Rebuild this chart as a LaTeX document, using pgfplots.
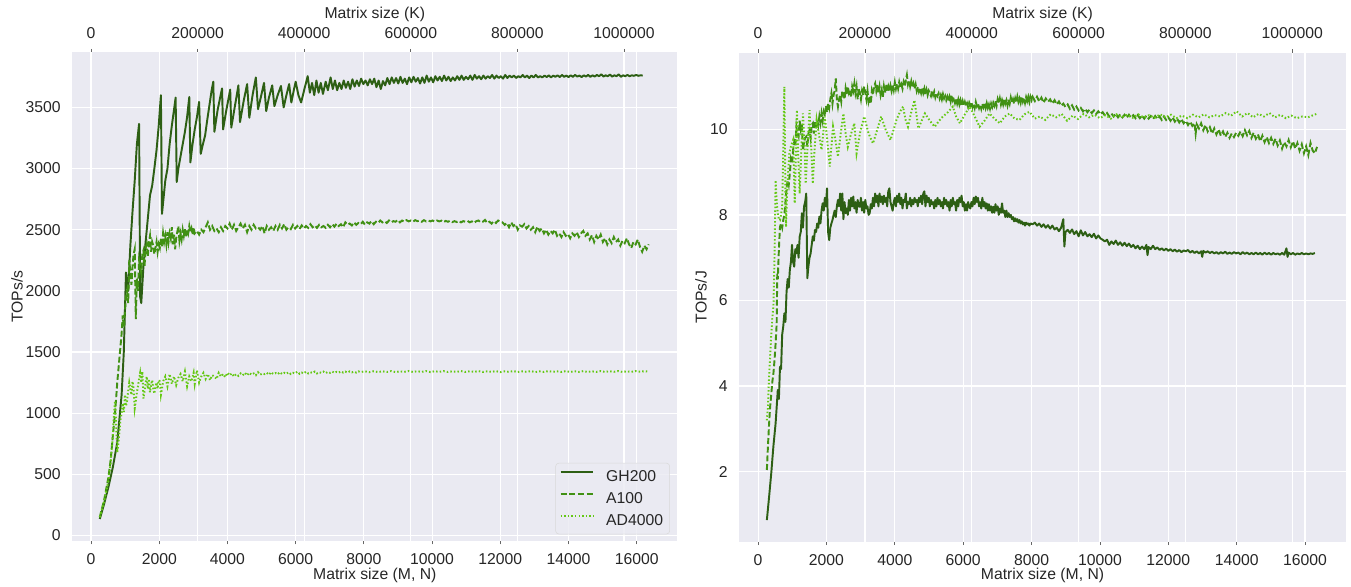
\documentclass[border=0pt]{standalone}
\usepackage{pgfplots}
\pgfplotsset{compat=1.18}
\usepackage{fontspec}
\setmainfont{Liberation Sans}
\definecolor{bg}{HTML}{EAEAF2}
\definecolor{txt}{HTML}{262626}
\definecolor{cgh}{RGB}{45,95,20}
\definecolor{ca}{RGB}{65,145,20}
\definecolor{cad}{RGB}{100,200,20}
\newcommand{\fs}{\fontsize{11.8}{14}\selectfont}
\pgfplotsset{
  base/.style={scale only axis, axis line style={draw=none},
    tick style={draw=txt!70, line width=0.6pt}, major tick length=2.6pt, tick align=outside,
    grid style={white, line width=0.9pt},
    tick label style={font=\fs, text=txt, inner sep=0pt},
    /pgf/number format/fixed, /pgf/number format/1000 sep={},
    /pgf/number format/assume math mode=true, scaled ticks=false,
    xmin=-550, xmax=17190},
  topax/.style={base, xmin=-35200, xmax=1100160, ymin=0, ymax=1,
    axis background/.style={fill=bg}, xmajorgrids,
    xtick={0,200000,400000,600000,800000,1000000},
    xticklabels={0,200000,400000,600000,800000,1000000},
    xtick pos=right, xticklabel pos=right, ytick=\empty,
    xticklabel style={anchor=base, inner sep=0pt, yshift=7.9pt}},
  mainax/.style={base, xmajorgrids, ymajorgrids, xtick={0,2000,...,16000},
    xtick pos=left, ytick pos=left, ytick style={draw=none},
    xticklabel style={anchor=base, inner sep=0pt, yshift=-15pt},
    yticklabel style={anchor=east, inner sep=0pt, xshift=-6pt}},
  gh/.style={draw=cgh, line width=1.45pt, line join=round},
  aa/.style={draw=ca, line width=1.45pt, dash pattern=on 4.5pt off 2pt},
  ad/.style={draw=cad, line width=1.45pt, dash pattern=on 1.1pt off 1.6pt},
}
\begin{document}
\begin{tikzpicture}
\path[use as bounding box] (0pt,0pt) rectangle (1013.25pt,-439.5pt);
% ---------------- left panel ----------------
\begin{axis}[topax, at={(54.225pt,-405.75pt)}, anchor=south west, width=453.75pt, height=366.5pt]
\end{axis}
\begin{axis}[mainax, at={(54.225pt,-405.75pt)}, anchor=south west, width=453.75pt, height=366.5pt,
  ymin=-45, ymax=3950, ytick={0,500,...,3500},
  legend style={at={(1,0)}, anchor=south east, xshift=-5.5pt, yshift=5pt, fill=bg, fill opacity=0.8, text opacity=1,
    draw=gray!30, rounded corners=2.5pt, font=\fs, text=txt, inner xsep=3pt, inner ysep=3.2pt, row sep=2.8pt,
    /tikz/every odd column/.append style={column sep=7pt}},
  legend cell align=left,
  legend image code/.code={\draw[#1] (0pt,0.33em) -- (24.5pt,0.33em);}]
\addplot[gh] coordinates {
(256,135)(384,260)(512,400)(640,560)(768,760)(896,1150)(960,1500)(1024,2150)(1088,2000)(1152,2370)(1216,2650)(1280,2900)(1344,3200)(1408,3365)(1440,1950)(1472,1900)(1536,2200)(1600,2400)(1664,2590)(1728,2780)(1792,2860)(1856,3000)(1920,3150)(1984,3350)(2048,3600)(2080,2630)(2176,2900)(2240,3000)(2304,3200)(2368,3350)(2432,3480)(2480,3580)(2512,2890)(2560,3000)(2624,3100)(2688,3200)(2752,3300)(2816,3420)(2880,3585)(2912,3050)(2976,3200)(3040,3320)(3104,3420)(3168,3545)(3216,3120)(3280,3200)(3344,3270)(3408,3400)(3472,3520)(3536,3640)(3584,3710)(3616,3300)(3712,3480)(3840,3655)(3872,3320)(3968,3480)(4080,3645)(4112,3335)(4224,3520)(4320,3680)(4368,3380)(4480,3560)(4576,3690)(4640,3415)(4736,3600)(4832,3745)(4896,3485)(4992,3600)(5072,3700)(5136,3470)(5216,3580)(5312,3680)(5376,3510)(5472,3600)(5568,3675)(5648,3500)(5728,3600)(5808,3690)(5872,3540)(5952,3650)(6000,3710)(6080,3600)(6160,3540)(6256,3650)(6352,3755)(6416,3620)(6480,3700)(6544,3600)(6608,3720)(6672,3620)(6736,3700)(6800,3610)(6880,3710)(6944,3640)(7024,3745)(7088,3650)(7152,3720)(7216,3640)(7280,3700)(7344,3650)(7408,3720)(7472,3660)(7536,3710)(7600,3650)(7664,3730)(7728,3670)(7792,3720)(7856,3675)(7920,3735)(7984,3690)(8048,3720)(8112,3680)
(8176,3730)(8240,3690)(8304,3735)(8368,3665)(8432,3720)(8496,3650)(8560,3715)(8624,3680)(8688,3740)(8752,3690)(8816,3745)(8880,3700)(8944,3740)(9008,3695)(9072,3750)(9136,3700)(9200,3735)(9264,3690)(9328,3745)(9392,3705)(9456,3750)(9520,3710)(9584,3740)(9648,3695)(9712,3745)(9776,3700)(9840,3760)(9904,3710)(9968,3745)(10032,3705)(10096,3755)(10160,3720)(10224,3750)(10288,3715)(10352,3760)(10416,3720)(10480,3750)(10544,3715)(10608,3745)(10672,3720)(10736,3755)(10800,3725)(10864,3760)(10928,3725)(10992,3750)(11056,3730)(11120,3760)(11184,3725)(11248,3765)(11312,3735)(11376,3755)(11440,3730)(11504,3760)(11568,3735)(11632,3755)(11696,3740)(11760,3765)(11824,3735)(11888,3760)(11952,3740)(12016,3755)(12080,3735)(12144,3765)(12208,3740)(12272,3760)(12336,3745)(12400,3760)(12464,3740)(12528,3755)(12592,3745)(12656,3765)(12720,3745)(12784,3760)(12848,3740)(12912,3760)(12976,3745)(13040,3765)(13104,3745)(13168,3755)(13232,3745)(13296,3760)(13360,3748)(13424,3762)(13488,3745)(13552,3760)(13616,3750)(13680,3762)(13744,3748)(13808,3765)(13872,3750)(13936,3760)(14000,3748)(14064,3762)(14128,3750)(14192,3765)(14256,3752)(14320,3760)(14384,3748)(14448,3762)(14512,3752)(14576,3765)(14640,3750)(14704,3762)(14768,3752)(14832,3765)(14896,3755)(14960,3770)(15024,3752)(15088,3762)(15152,3755)(15216,3768)(15280,3752)(15344,3762)(15408,3755)(15472,3770)(15536,3750)(15600,3762)(15664,3755)(15728,3765)(15792,3755)(15856,3762)(15920,3758)(15984,3765)(16048,3758)(16112,3762)(16176,3760)};
\addlegendentry{GH200}
\addplot[aa] coordinates {
(256,150)(384,290)(512,480)(576,620)(640,820)(704,1000)(768,1250)(832,1450)(896,1650)(928,1800)(960,1700)(1024,1950)(1056,2000)(1088,1900)(1120,2250)(1152,2150)(1184,2050)(1216,2200)(1248,2300)(1280,2340)(1312,1770)(1344,2100)(1376,2000)(1408,2250)(1440,2200)(1472,2150)(1504,2300)(1536,2330)(1568,2200)(1600,2350)(1632,2380)(1664,2280)(1696,2400)(1728,2450)(1760,2320)(1792,2400)(1824,2370)(1856,2300)(1888,2350)(1920,2400)(1952,2320)(1984,2380)(2016,2350)(2048,2430)(2080,2360)(2112,2470)(2144,2400)(2176,2450)(2208,2380)(2240,2480)(2272,2400)(2304,2470)(2336,2430)(2368,2520)(2400,2380)(2432,2460)(2464,2340)(2496,2430)(2528,2480)(2560,2530)(2592,2410)(2624,2470)(2656,2420)(2688,2500)(2720,2450)(2752,2510)(2784,2440)(2816,2500)(2848,2470)(2880,2530)(2912,2480)(2944,2510)(2976,2460)(3008,2520)(3040,2470)(3104,2490)(3168,2460)(3232,2500)(3296,2480)(3360,2520)(3424,2560)(3488,2500)(3552,2530)(3616,2490)(3680,2510)(3744,2480)(3808,2520)(3872,2490)(3936,2530)(4000,2510)(4064,2550)(4128,2500)(4192,2540)(4256,2490)(4320,2520)(4384,2550)(4448,2510)(4512,2540)(4576,2480)(4640,2530)(4704,2500)(4768,2540)(4832,2510)(4896,2520)(4960,2500)(5024,2530)(5088,2470)(5152,2530)(5216,2500)(5280,2520)(5344,2490)(5408,2530)(5472,2500)(5536,2540)(5600,2510)(5664,2545)(5728,2500)(5792,2520)(5856,2505)(5920,2540)(5984,2510)(6048,2530)(6112,2505)(6176,2535)(6240,2510)(6304,2530)(6368,2515)(6432,2545)(6496,2520)(6560,2535)(6624,2515)(6688,2540)(6752,2520)(6816,2530)(6880,2515)(6944,2540)(7008,2520)(7072,2545)(7136,2525)(7200,2550)(7264,2530)(7328,2545)(7392,2520)(7456,2560)(7520,2540)(7584,2550)(7648,2535)(7712,2560)(7776,2540)(7840,2555)(7904,2545)(7968,2565)(8032,2540)(8096,2560)(8160,2550)(8224,2570)(8288,2545)(8352,2565)(8416,2555)(8480,2575)(8544,2560)(8608,2570)(8672,2555)(8736,2575)(8800,2560)(8864,2570)(8928,2565)(8992,2580)(9056,2560)(9120,2575)(9184,2565)(9248,2578)(9312,2568)(9376,2575)(9440,2565)(9504,2578)(9568,2570)(9632,2575)(9696,2565)(9760,2578)(9824,2568)(9888,2575)(9952,2568)(10016,2575)(10080,2565)(10144,2575)(10208,2568)(10272,2574)(10336,2562)(10400,2572)(10464,2565)(10528,2573)(10592,2562)(10656,2570)(10720,2563)(10784,2572)(10848,2560)(10912,2570)(10976,2565)(11040,2572)(11104,2560)(11168,2568)(11232,2555)(11296,2570)(11360,2575)(11424,2560)(11488,2565)(11552,2580)(11616,2555)(11680,2565)(11744,2550)(11808,2570)(11872,2555)(11936,2575)(12000,2565)(12064,2560)(12128,2540)(12192,2555)(12256,2520)(12320,2560)(12384,2530)(12448,2545)(12512,2500)(12576,2535)(12640,2525)(12704,2545)(12768,2510)(12832,2530)(12896,2500)(12960,2520)(13024,2480)(13088,2525)(13152,2490)(13216,2510)(13280,2470)(13344,2500)(13408,2460)(13472,2490)(13536,2470)(13600,2500)(13664,2450)(13728,2470)(13792,2440)(13856,2480)(13920,2450)(13984,2465)(14048,2430)(14112,2470)(14176,2450)(14240,2480)(14304,2440)(14368,2470)(14432,2490)(14496,2450)(14560,2470)(14624,2420)(14688,2455)(14752,2400)(14816,2450)(14880,2420)(14944,2460)(15008,2400)(15072,2430)(15136,2380)(15200,2420)(15264,2390)(15328,2440)(15392,2400)(15456,2420)(15520,2370)(15584,2410)(15648,2390)(15712,2430)(15776,2380)(15840,2350)(15904,2400)(15968,2380)(16032,2420)(16096,2360)(16160,2320)(16224,2370)(16288,2340)(16352,2380)};
\addlegendentry{A100}
\addplot[ad] coordinates {
(256,150)(384,280)(512,450)(576,600)(640,820)(672,1000)(704,1100)(736,900)(768,680)(800,750)(832,850)(864,950)(896,1000)(928,1080)(960,1010)(992,1150)(1024,1060)(1056,1100)(1088,1180)(1120,1250)(1152,1200)(1184,1150)(1216,1260)(1248,1200)(1280,1040)(1312,1100)(1344,1170)(1376,1220)(1408,1280)(1440,1330)(1472,1250)(1504,1340)(1536,1120)(1568,1180)(1600,1250)(1632,1300)(1664,1200)(1696,1280)(1728,1170)(1760,1230)(1792,1270)(1824,1200)(1856,1160)(1888,1220)(1920,1250)(1952,1200)(1984,1270)(2016,1260)(2048,1150)(2080,1200)(2112,1260)(2176,1300)(2240,1220)(2304,1320)(2368,1240)(2432,1300)(2496,1230)(2560,1290)(2624,1320)(2688,1260)(2752,1340)(2816,1220)(2880,1300)(2944,1260)(3008,1330)(3040,1240)(3104,1350)(3168,1250)(3232,1300)(3296,1330)(3360,1280)(3424,1320)(3488,1270)(3552,1310)(3616,1300)(3680,1280)(3744,1330)(3808,1300)(3872,1320)(3936,1295)(4000,1330)(4064,1310)(4128,1325)(4192,1300)(4256,1320)(4320,1305)(4384,1325)(4448,1310)(4512,1330)(4576,1310)(4640,1330)(4704,1315)(4768,1325)(4832,1310)(4896,1335)(4960,1315)(5024,1325)(5088,1320)(5152,1330)(5216,1315)(5280,1335)(5344,1320)(5408,1328)(5472,1318)(5536,1335)(5600,1320)(5664,1330)(5728,1322)(5792,1335)(5856,1320)(5920,1330)(5984,1325)(6048,1340)(6112,1322)(6176,1332)(6240,1325)(6304,1340)(6368,1325)(6432,1335)(6496,1328)(6560,1340)(6624,1325)(6688,1335)(6752,1330)(6816,1340)(6880,1328)(6944,1338)(7008,1330)(7072,1340)(7136,1330)(7200,1338)(7264,1332)(7328,1342)(7392,1332)(7456,1340)(7520,1332)(7584,1342)(7648,1334)(7712,1340)(7776,1332)(7840,1342)(7904,1336)(8032,1342)(8160,1335)(8288,1343)(8416,1336)(8544,1342)(8672,1337)(8800,1344)(8928,1336)(9056,1342)(9184,1338)(9312,1345)(9440,1337)(9568,1343)(9696,1338)(9824,1344)(9952,1336)(10080,1343)(10208,1338)(10336,1344)(10464,1337)(10592,1342)(10720,1338)(10848,1344)(10976,1337)(11104,1343)(11232,1338)(11360,1344)(11488,1337)(11616,1342)(11744,1338)(11872,1344)(12000,1336)(12128,1342)(12256,1338)(12384,1344)(12512,1337)(12640,1342)(12768,1338)(12896,1344)(13024,1336)(13152,1342)(13280,1337)(13408,1344)(13536,1338)(13664,1342)(13792,1337)(13920,1344)(14048,1337)(14176,1343)(14304,1338)(14432,1344)(14560,1337)(14688,1342)(14816,1338)(14944,1344)(15072,1337)(15200,1343)(15328,1338)(15456,1344)(15584,1337)(15712,1342)(15840,1338)(15968,1344)(16096,1339)(16224,1343)(16352,1340)};
\addlegendentry{AD4000}
\end{axis}
% ---------------- right panel ----------------
\begin{axis}[topax, at={(554.475pt,-406.275pt)}, anchor=south west, width=454.8pt, height=366.75pt]
\end{axis}
\begin{axis}[mainax, at={(554.475pt,-406.275pt)}, anchor=south west, width=454.8pt, height=366.75pt,
  ymin=0.364, ymax=11.79, ytick={2,4,6,8,10}]
\addplot[gh] coordinates {
(256,0.87)(320,1.4)(384,1.96)(448,2.6)(512,3.13)(576,3.91)(608,3.7)(640,4.45)(672,4.4)(704,5.2)(736,5.4)(768,5.7)(800,5.5)(832,6.2)(864,6.5)(896,6.3)(928,6.71)(960,6.9)(992,7.30)(1024,6.9)(1056,6.79)(1088,7.2)(1120,7.10)(1152,7.3)(1184,7.0)(1216,7.49)(1248,7.6)(1280,8.04)(1312,7.7)(1344,8.2)(1376,8.3)(1408,8.50)(1440,6.52)(1472,6.8)(1504,7.0)(1536,7.10)(1568,7.3)(1600,7.5)(1632,7.4)(1664,7.65)(1696,7.6)(1728,7.8)(1760,7.7)(1792,7.96)(1824,7.8)(1856,8.1)(1888,8.27)(1920,8.1)(1952,8.4)(1984,8.2)(2016,8.62)(2048,7.6)(2080,7.41)(2112,7.7)(2144,7.8)(2176,7.88)(2208,8.0)(2240,8.1)(2272,7.95)(2304,8.2)(2336,8.35)(2368,8.2)(2400,8.5)(2432,8.1)(2464,8.5)(2496,7.9)(2528,8.3)(2560,8.04)(2592,8.15)(2624,8.0)(2656,8.35)(2688,8.1)(2720,8.4)(2752,8.2)(2784,8.43)(2816,8.15)(2848,8.3)(2880,8.05)(2912,8.35)(2944,8.2)(2976,8.19)(3008,8.4)(3040,8.1)(3072,8.3)(3104,8.05)(3136,8.35)(3168,8.15)(3200,8.2)(3232,8.0)(3264,8.04)(3296,8.25)(3328,8.15)(3360,8.4)(3392,8.2)(3424,8.5)(3456,8.3)(3488,8.45)(3520,8.2)(3552,8.5)(3584,8.3)(3616,8.43)(3648,8.25)(3680,8.45)(3712,8.3)(3744,8.4)(3776,8.2)(3808,8.55)(3840,8.62)(3872,8.3)(3904,8.2)(3936,8.1)(3968,8.3)(4000,8.4)(4032,8.2)(4064,8.45)(4096,8.3)(4128,8.5)(4160,8.25)(4192,8.4)(4224,8.15)(4256,8.35)(4288,8.3)(4320,8.5)(4352,8.15)(4384,8.3)(4416,8.25)(4448,8.4)(4480,8.2)(4512,8.35)(4544,8.25)(4576,8.4)(4608,8.3)(4640,8.35)(4672,8.2)(4704,8.4)(4736,8.3)(4768,8.45)(4800,8.25)(4832,8.5)(4864,8.55)(4896,8.2)(4928,8.45)(4960,8.3)(4992,8.4)(5024,8.2)(5056,8.35)(5088,8.25)(5120,8.3)(5152,8.15)(5184,8.35)(5216,8.2)(5248,8.4)(5280,8.25)(5312,8.35)(5344,8.2)(5376,8.3)(5408,8.15)(5440,8.4)(5472,8.25)(5504,8.35)(5536,8.2)(5568,8.3)(5600,8.1)(5632,8.35)(5664,8.2)(5696,8.4)(5728,8.25)(5760,8.3)(5792,8.1)(5824,8.35)(5856,8.2)(5888,8.4)(5920,8.3)(5952,8.45)(5984,8.2)(6016,8.3)(6048,8.1)(6080,8.25)(6112,8.1)(6144,8.3)(6176,8.2)(6208,8.15)(6240,8.3)(6272,8.2)(6304,8.4)(6336,8.25)(6368,8.43)(6400,8.3)(6432,8.4)(6464,8.2)(6496,8.3)(6528,8.15)(6560,8.4)(6592,8.2)(6624,8.3)(6656,8.15)(6688,8.27)(6720,8.1)(6752,8.25)(6784,8.1)(6816,8.2)(6848,8.05)(6880,8.19)(6912,8.05)(6944,8.25)(6976,8.1)(7008,8.2)(7040,8.0)(7072,8.15)(7104,8.05)(7136,8.27)(7168,8.05)(7200,8.1)(7232,7.95)(7264,8.1)(7296,7.95)(7328,8.04)(7360,7.95)(7392,8.0)(7424,7.9)(7456,7.95)(7488,7.85)(7520,7.92)(7552,7.85)(7584,7.9)(7616,7.82)(7648,7.88)(7680,7.8)(7712,7.85)(7744,7.78)(7776,7.82)(7808,7.75)(7840,7.82)(7872,7.78)(7904,7.8)(7936,7.75)(7968,7.8)
(8032,7.78)(8096,7.82)(8160,7.75)(8224,7.8)(8288,7.72)(8352,7.78)(8416,7.7)(8480,7.76)(8544,7.68)(8608,7.75)(8672,7.66)(8736,7.7)(8800,7.62)(8864,7.7)(8928,7.9)(8960,7.26)(8992,7.6)(9056,7.65)(9120,7.58)(9184,7.66)(9248,7.55)(9312,7.62)(9376,7.5)(9440,7.64)(9504,7.52)(9568,7.6)(9632,7.5)(9696,7.55)(9760,7.48)(9824,7.56)(9888,7.45)(9952,7.52)(10016,7.45)(10080,7.42)(10144,7.38)(10208,7.42)(10272,7.3)(10336,7.38)(10400,7.32)(10464,7.4)(10528,7.3)(10592,7.36)(10656,7.28)(10720,7.35)(10784,7.27)(10848,7.33)(10912,7.25)(10976,7.3)(11040,7.22)(11104,7.28)(11168,7.2)(11232,7.26)(11296,7.2)(11360,7.3)(11392,7.06)(11424,7.25)(11488,7.2)(11552,7.28)(11616,7.2)(11680,7.24)(11744,7.18)(11808,7.22)(11872,7.17)(11936,7.21)(12000,7.16)(12064,7.2)(12128,7.15)(12192,7.19)(12256,7.14)(12320,7.18)(12384,7.13)(12448,7.17)(12512,7.15)(12576,7.18)(12640,7.12)(12704,7.16)(12768,7.11)(12832,7.15)(12896,7.1)(12960,7.15)(12992,7.02)(13024,7.16)(13088,7.12)(13152,7.15)(13216,7.11)(13280,7.14)(13344,7.1)(13408,7.13)(13472,7.09)(13536,7.13)(13600,7.1)(13664,7.14)(13728,7.09)(13792,7.12)(13856,7.09)(13920,7.13)(13984,7.1)(14048,7.12)(14112,7.08)(14176,7.13)(14240,7.09)(14304,7.12)(14368,7.08)(14432,7.11)(14496,7.08)(14560,7.12)(14624,7.08)(14688,7.11)(14752,7.07)(14816,7.12)(14880,7.08)(14944,7.11)(15008,7.07)(15072,7.11)(15136,7.08)(15200,7.1)(15264,7.07)(15328,7.11)(15392,7.07)(15456,7.22)(15488,7.02)(15520,7.12)(15584,7.08)(15648,7.11)(15712,7.07)(15776,7.1)(15840,7.08)(15904,7.11)(15968,7.08)(16032,7.1)(16096,7.08)(16160,7.1)(16224,7.09)(16288,7.11)};
\addplot[aa] coordinates {
(256,2.04)(288,2.6)(320,3.1)(352,3.52)(384,3.8)(416,4.1)(448,4.30)(480,4.6)(512,5.0)(544,5.47)(560,6.63)(576,6.5)(608,7.2)(640,7.72)(672,7.8)(704,7.7)(736,7.88)(768,8.0)(800,8.3)(832,8.6)(864,8.81)(896,8.7)(928,8.97)(960,9.3)(992,9.2)(1024,9.52)(1056,9.7)(1088,9.6)(1120,10.06)(1152,9.9)(1184,9.83)(1216,10.2)(1248,10.0)(1280,10.14)(1312,9.52)(1344,9.7)(1376,9.8)(1408,9.83)(1440,9.6)(1472,9.9)(1504,9.98)(1536,9.8)(1568,10.1)(1600,10.14)(1632,9.9)(1664,10.2)(1696,10.0)(1728,10.22)(1760,10.1)(1792,10.3)(1824,10.15)(1856,10.37)(1888,10.2)(1920,10.4)(1952,10.3)(1984,10.55)(2016,10.4)(2048,10.61)(2080,10.5)(2112,10.7)(2144,10.84)(2176,10.6)(2208,10.8)(2240,10.9)(2272,11.19)(2304,10.7)(2336,10.53)(2368,10.7)(2400,10.8)(2432,10.65)(2464,10.9)(2496,10.84)(2528,10.7)(2560,10.95)(2592,10.8)(2624,11.0)(2656,10.85)(2688,10.92)(2720,10.75)(2752,11.0)(2784,10.9)(2816,11.07)(2848,10.85)(2880,11.0)(2912,10.7)(2944,10.95)(2976,10.84)(3008,10.7)(3040,10.9)(3072,10.8)(3104,11.0)(3136,10.85)(3168,10.7)(3200,10.9)(3232,10.65)(3264,10.76)(3296,10.6)(3328,10.9)(3360,10.8)(3392,11.0)(3424,11.07)(3456,10.9)(3488,11.05)(3520,10.85)(3552,11.0)(3584,10.8)(3616,10.92)(3648,10.75)(3680,11.0)(3712,10.85)(3744,11.05)(3776,10.9)(3808,11.0)(3840,10.88)(3872,11.02)(3904,10.9)(3936,11.05)(3968,10.92)(4000,11.1)(4032,10.95)(4064,11.07)(4096,10.95)(4128,11.1)(4160,10.98)(4192,11.05)(4224,10.95)(4256,11.1)(4288,11.0)(4320,11.15)(4352,11.27)(4384,11.05)(4416,11.15)(4448,11.0)(4480,11.12)(4512,10.98)(4544,11.07)(4576,10.95)(4608,11.05)(4640,10.9)(4672,11.0)(4704,10.88)(4736,10.95)(4768,10.85)(4800,10.98)(4832,10.85)(4864,10.95)(4896,10.8)(4928,10.92)(4960,10.8)(4992,10.9)(5024,10.84)(5056,10.78)(5088,10.9)(5120,10.8)(5152,10.88)(5184,10.75)(5216,10.85)(5248,10.78)(5280,10.84)(5312,10.72)(5344,10.8)(5376,10.7)(5408,10.82)(5440,10.72)(5472,10.78)(5504,10.68)(5536,10.76)(5568,10.66)(5600,10.76)(5632,10.65)(5664,10.8)(5696,10.68)(5728,10.75)(5760,10.62)(5792,10.72)(5824,10.6)(5856,10.7)(5888,10.58)(5920,10.68)(5952,10.56)(5984,10.66)(6016,10.55)(6048,10.64)(6080,10.55)(6112,10.61)(6144,10.52)(6176,10.62)(6208,10.55)(6240,10.64)(6272,10.52)(6304,10.6)(6336,10.5)(6368,10.64)(6400,10.54)(6432,10.6)(6464,10.5)(6496,10.58)(6528,10.48)(6560,10.6)(6592,10.52)(6624,10.62)(6656,10.5)(6688,10.61)(6720,10.5)(6752,10.58)(6784,10.48)(6816,10.6)(6848,10.52)(6880,10.62)(6912,10.55)(6944,10.66)(6976,10.55)(7008,10.7)(7040,10.6)(7072,10.72)(7104,10.58)(7136,10.68)(7168,10.58)(7200,10.7)(7232,10.6)(7264,10.68)(7296,10.56)(7328,10.7)(7360,10.6)(7392,10.74)(7424,10.62)(7456,10.7)(7488,10.6)(7520,10.72)(7552,10.62)(7584,10.76)(7616,10.64)(7648,10.72)(7680,10.62)(7712,10.76)(7744,10.65)(7776,10.74)(7808,10.62)(7840,10.75)(7872,10.66)(7904,10.76)(7936,10.64)(7968,10.76)(8000,10.68)
(8032,10.76)(8096,10.66)(8160,10.76)(8224,10.65)(8288,10.74)(8352,10.62)(8416,10.72)(8480,10.64)(8544,10.7)(8608,10.6)(8672,10.68)(8736,10.58)(8800,10.65)(8864,10.55)(8928,10.6)(8992,10.52)(9056,10.58)(9120,10.48)(9184,10.56)(9248,10.46)(9312,10.53)(9376,10.44)(9440,10.5)(9504,10.42)(9568,10.48)(9632,10.4)(9696,10.46)(9760,10.38)(9824,10.44)(9888,10.36)(9952,10.42)(10016,10.35)(10080,10.4)(10144,10.32)(10208,10.38)(10272,10.3)(10336,10.37)(10400,10.3)(10464,10.36)(10528,10.28)(10592,10.35)(10656,10.28)(10720,10.34)(10784,10.27)(10848,10.34)(10912,10.27)(10976,10.33)(11040,10.26)(11104,10.33)(11168,10.26)(11232,10.32)(11296,10.25)(11360,10.32)(11424,10.25)(11488,10.31)(11552,10.24)(11616,10.31)(11680,10.24)(11744,10.3)(11808,10.22)(11872,10.3)(11936,10.22)(12000,10.28)(12064,10.2)(12128,10.28)(12192,10.18)(12256,10.25)(12320,10.16)(12384,10.24)(12448,10.14)(12512,10.2)(12576,10.1)(12640,10.18)(12704,10.08)(12768,10.14)(12800,9.9)(12832,10.12)(12896,10.02)(12960,10.14)(13024,9.98)(13088,10.1)(13152,9.95)(13216,10.05)(13280,9.9)(13344,10.02)(13408,9.88)(13472,10.0)(13536,9.85)(13600,9.95)(13664,9.82)(13728,9.92)(13792,9.8)(13856,9.9)(13920,9.82)(13984,9.92)(14048,9.85)(14112,9.95)(14176,9.84)(14240,9.98)(14304,9.86)(14368,9.96)(14432,9.8)(14496,9.92)(14560,9.78)(14624,9.88)(14688,9.72)(14752,9.85)(14816,9.7)(14880,9.82)(14944,9.68)(15008,9.8)(15072,9.66)(15136,9.78)(15200,9.62)(15264,9.74)(15328,9.55)(15392,9.7)(15456,9.6)(15520,9.75)(15584,9.58)(15648,9.72)(15712,9.55)(15776,9.68)(15840,9.5)(15904,9.65)(15968,9.44)(16032,9.6)(16096,9.4)(16160,9.68)(16224,9.5)(16288,9.44)(16352,9.59)};
\addplot[ad] coordinates {
(256,3.2)(288,3.52)(320,4.2)(352,4.69)(384,5.2)(416,5.6)(448,5.86)(480,7.0)(512,8.81)(544,8.3)(576,8.04)(608,7.9)(640,7.88)(672,8.0)(704,8.19)(736,9.5)(768,10.99)(800,8.5)(816,7.72)(848,8.5)(880,9.0)(912,9.44)(960,9.6)(1024,9.75)(1072,8.27)(1104,9.4)(1136,10.45)(1168,9.5)(1216,8.50)(1264,9.5)(1312,10.37)(1360,9.6)(1392,8.73)(1440,9.5)(1504,10.45)(1552,9.6)(1600,8.73)(1648,9.5)(1712,10.22)(1776,9.9)(1856,9.52)(1904,9.9)(1952,10.30)(2016,9.8)(2096,9.13)(2144,9.6)(2192,10.06)(2272,9.7)(2336,9.36)(2416,9.9)(2496,10.37)(2560,9.9)(2624,9.59)(2720,9.9)(2816,10.14)(2880,9.44)(2976,9.9)(3104,10.30)(3232,9.9)(3360,9.67)(3488,10.0)(3600,10.30)(3728,10.0)(3872,9.75)(3968,10.0)(4048,10.22)(4144,10.4)(4240,10.53)(4320,10.2)(4384,10.06)(4480,10.4)(4576,10.68)(4640,10.3)(4688,10.02)(4784,10.2)(4880,10.37)(5024,10.2)(5168,10.06)(5296,10.2)(5408,10.30)(5552,10.4)(5696,10.53)(5792,10.3)(5904,10.14)(6048,10.35)(6192,10.53)(6336,10.3)(6480,10.06)(6624,10.2)(6768,10.37)(6912,10.25)(7072,10.14)(7216,10.3)(7360,10.37)(7504,10.25)(7648,10.22)(7792,10.35)(7936,10.41)(8096,10.25)(8240,10.3)(8400,10.22)(8560,10.35)(8720,10.28)(8880,10.36)(9040,10.2)(9200,10.32)(9360,10.24)(9520,10.36)(9680,10.28)(9840,10.34)(10000,10.26)(10160,10.33)(10320,10.25)(10480,10.35)(10640,10.28)(10800,10.34)(10960,10.27)(11120,10.35)(11280,10.28)(11440,10.33)(11600,10.27)(11760,10.35)(11920,10.28)(12080,10.34)(12240,10.26)(12400,10.32)(12560,10.26)(12720,10.34)(12880,10.28)(13040,10.35)(13200,10.28)(13360,10.33)(13520,10.3)(13680,10.38)(13840,10.32)(14000,10.42)(14160,10.3)(14320,10.38)(14480,10.28)(14640,10.36)(14800,10.3)(14960,10.38)(15120,10.28)(15280,10.34)(15440,10.26)(15600,10.32)(15760,10.26)(15920,10.3)(16080,10.28)(16240,10.33)(16368,10.37)};
\end{axis}
% ---------------- labels ----------------
\begin{scope}[every node/.style={font=\fs, text=txt, inner sep=0pt}]
\node[rotate=90] at (12.75pt,-222.5pt) {TOPs/s};
\node at (281.1pt,-431.25pt) {Matrix size (M, N)};
\node at (281.1pt,-10.5pt) {Matrix size (K)};
\node[rotate=90] at (525.75pt,-222.9pt) {TOPs/J};
\node at (781.9pt,-431.25pt) {Matrix size (M, N)};
\node at (781.9pt,-10.5pt) {Matrix size (K)};
\end{scope}
\end{tikzpicture}
\end{document}
